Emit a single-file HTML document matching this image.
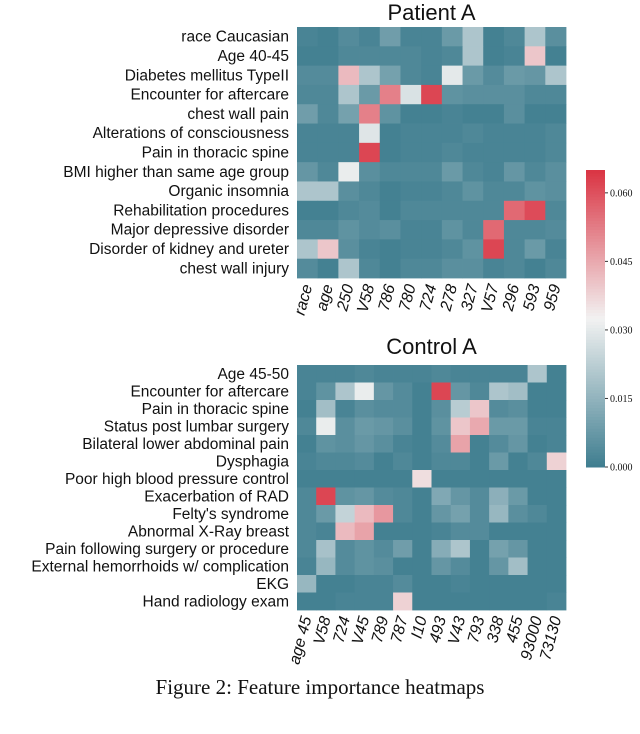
<!DOCTYPE html>
<html><head><meta charset="utf-8"><style>
body{margin:0;background:#fff;width:640px;height:729px;overflow:hidden}
svg text{font-family:"Liberation Sans",sans-serif;fill:#111}
</style></head><body>
<svg id="fig" width="640" height="729" viewBox="0 0 640 729" xmlns="http://www.w3.org/2000/svg">
<text x="320" y="694" text-anchor="middle" style="font-family:'Liberation Serif',serif;font-size:21px">Figure 2: Feature importance heatmaps</text>
</svg>
<script>
// values in thousandths (x0.001)
const patientRows = ["race Caucasian","Age 40-45","Diabetes mellitus TypeII","Encounter for aftercare","chest wall pain","Alterations of consciousness","Pain in thoracic spine","BMI higher than same age group","Organic insomnia","Rehabilitation procedures","Major depressive disorder","Disorder of kidney and ureter","chest wall injury"];
const patientCols = ["race","age","250","V58","786","780","724","278","327","V57","296","593","959"];
const patientValues = [
[2,1,4,2,9,2,2,8,20,1,3,20,5],
[1,1,3,3,3,3,2,3,20,1,2,40,1],
[4,4,42,20,10,3,2,30,8,4,8,7,20],
[3,3,20,8,52,28,62,6,5,5,5,3,3],
[9,3,10,52,6,1,1,2,1,1,5,1,1],
[2,2,2,29,1,2,2,2,3,2,2,2,3],
[2,2,2,62,1,2,2,3,2,2,2,2,3],
[7,3,31,5,3,3,3,8,3,2,7,3,5],
[20,20,5,3,1,2,2,3,6,3,3,6,5],
[1,1,3,4,1,3,3,3,3,3,56,61,3],
[3,3,6,4,5,2,2,6,3,56,3,3,4],
[20,40,5,2,1,2,2,3,6,62,3,8,2],
[4,1,20,3,1,3,3,5,5,2,3,1,3]];
const controlRows = ["Age 45-50","Encounter for aftercare","Pain in thoracic spine","Status post lumbar surgery","Bilateral lower abdominal pain","Dysphagia","Poor high blood pressure control","Exacerbation of RAD","Felty's syndrome","Abnormal X-Ray breast","Pain following surgery or procedure","External hemorrhoids w/ complication","EKG","Hand radiology exam"];
const controlCols = ["age 45","V58","724","V45","789","787","I10","493","V43","793","338","455","93000","73130"];
const controlValues = [
[2,2,2,3,2,2,2,3,2,2,2,2,20,1],
[2,6,20,31,7,4,1,62,7,3,20,18,1,1],
[1,18,2,5,4,4,1,5,22,40,4,5,1,1],
[3,31,5,8,7,5,1,6,40,45,8,8,2,2],
[1,6,5,7,5,2,1,4,46,1,4,7,1,2],
[2,3,3,4,1,3,1,3,3,1,8,1,3,38],
[1,1,1,1,1,1,36,1,1,1,1,1,1,1],
[3,62,6,7,4,3,1,12,7,4,14,8,1,1],
[3,8,24,42,48,3,1,7,10,4,16,5,3,1],
[3,2,42,46,1,1,1,2,4,4,1,1,1,1],
[3,19,4,6,4,9,1,13,20,1,10,7,1,1],
[2,16,4,6,5,1,1,7,4,1,7,18,1,1],
[16,1,1,2,2,4,1,1,2,1,1,1,1,1],
[1,1,2,2,2,38,1,1,1,1,1,1,1,2]];
const cbTicks = ["0.000","0.015","0.030","0.045","0.060"];
const cbTickValues = [0,15,30,45,60];
const VMAX = 65;

const NS="http://www.w3.org/2000/svg";
const svg=document.getElementById('fig');
function mk(tag,attrs,parent){const e=document.createElementNS(NS,tag);for(const k in attrs)e.setAttribute(k,attrs[k]);(parent||svg).appendChild(e);return e;}
const lo=[62,125,143],mid=[242,242,242],hi=[218,52,67];
function color(v){let t=Math.max(0,Math.min(1,v/VMAX));let a,b,u;
 if(t<0.5){a=lo;b=mid;u=t/0.5;}else{a=mid;b=hi;u=(t-0.5)/0.5;}
 return 'rgb('+a.map((x,i)=>Math.round(x+(b[i]-x)*u)).join(',')+')';}

function heatmap(name,title,rows,cols,vals,x0,x1,y0,y1,titleY){
 const g=mk('g',{});
 
 
 const t=mk('text',{x:(x0+x1)/2,y:titleY,'text-anchor':'middle','font-size':'22'},g);
 t.textContent=title;
 
 
 const cw=(x1-x0)/cols.length, ch=(y1-y0)/rows.length;
 const xs=j=>x0+j*cw, ys=i=>y0+i*ch;
 vals.forEach((row,i)=>row.forEach((v,j)=>{
  const r=mk('rect',{x:xs(j),y:ys(i),width:cw+0.4,height:ch+0.4,fill:color(v)},g);
  
  
 }));
 rows.forEach((lab,i)=>{
  const tx=mk('text',{x:x0-8,y:ys(i)+ch/2+5,'text-anchor':'end','font-size':'15.5'},g);
  tx.textContent=lab;
  
  
 });
 cols.forEach((lab,j)=>{
  const cx=xs(j)+cw/2+5, cy=y1+8;
  const tx=mk('text',{x:cx,y:cy,'text-anchor':'end','font-size':'16','font-style':'italic',transform:'rotate(-75 '+cx+' '+cy+')'},g);
  tx.textContent=lab;
  
  
 });
}
heatmap('patient-a','Patient A',patientRows,patientCols,patientValues,297,566,27,278,20);
heatmap('control-a','Control A',controlRows,controlCols,controlValues,297,566,365,610,354);

// colorbar
const cb=mk('g',{});


const cbX=586,cbW=19,cbTop=170,cbBot=467;
const cy=v=>cbBot-(v/VMAX)*(cbBot-cbTop);
for(let k=0;k<100;k++){
 const v0=k*VMAX/100;
 mk('rect',{x:cbX,y:cy(v0+VMAX/100),width:cbW,height:(cbBot-cbTop)/100+0.5,fill:color(v0+VMAX/200)},cb);
}
cbTickValues.forEach((v,i)=>{
 mk('line',{x1:cbX+cbW,x2:cbX+cbW+3,y1:cy(v),y2:cy(v),stroke:'#333','stroke-width':1},cb);
 const tx=mk('text',{x:cbX+cbW+5,y:cy(v)+3.5,'font-size':'10',style:"font-family:'Liberation Serif',serif"},cb);
 tx.textContent=cbTicks[i];
 
 
});
</script>
</body></html>
